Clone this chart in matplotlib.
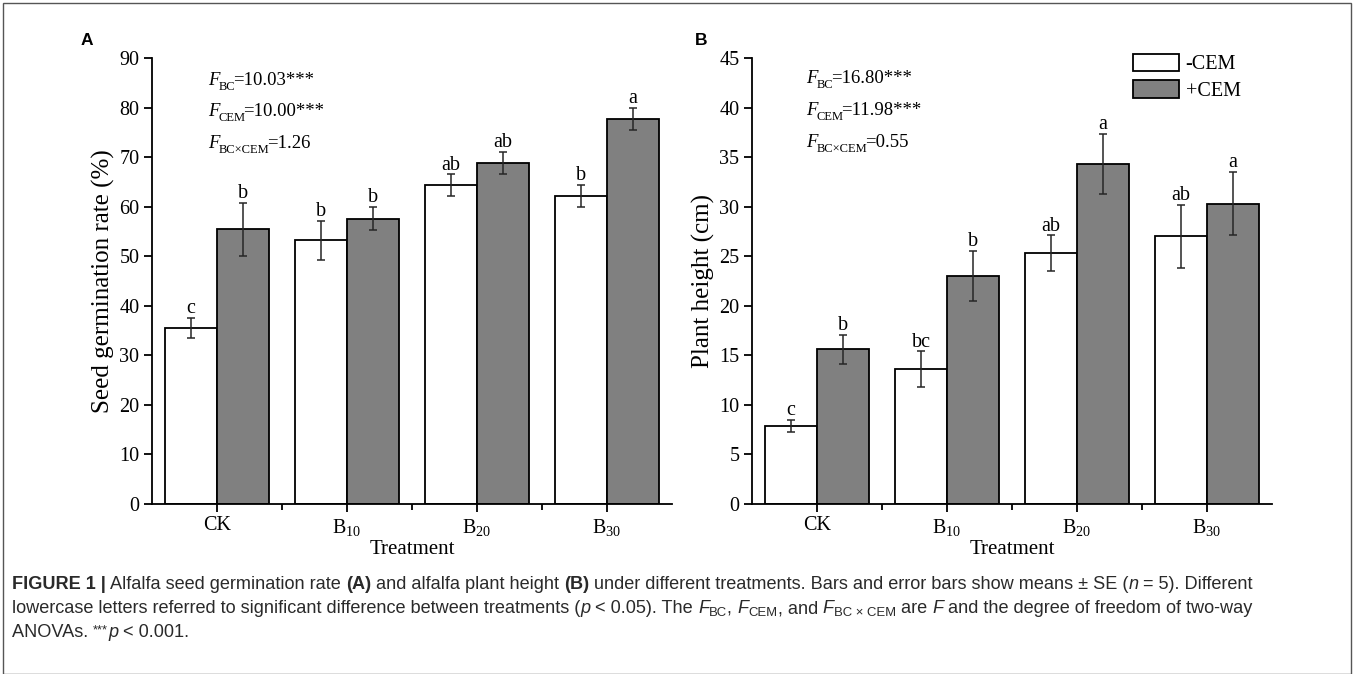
import numpy as np
import matplotlib
matplotlib.use('Agg')
from matplotlib import pyplot as plt
from matplotlib import font_manager
from matplotlib.patches import Rectangle

# ---- data ----
treatments = ['CK', 'B$_{10}$', 'B$_{20}$', 'B$_{30}$']

germ_minus = [35.5, 53.2, 64.3, 62.1]
germ_minus_se = [2.1, 3.9, 2.2, 2.2]
germ_plus = [55.4, 57.6, 68.8, 77.7]
germ_plus_se = [5.4, 2.3, 2.3, 2.2]
germ_letters_minus = ['c', 'b', 'ab', 'b']
germ_letters_plus = ['b', 'b', 'ab', 'a']

height_minus = [7.9, 13.6, 25.3, 27.0]
height_minus_se = [0.6, 1.8, 1.8, 3.2]
height_plus = [15.6, 23.0, 34.3, 30.3]
height_plus_se = [1.5, 2.5, 3.0, 3.2]
height_letters_minus = ['c', 'bc', 'ab', 'ab']
height_letters_plus = ['b', 'b', 'a', 'a']

stats_a = [('BC', '=10.03***'), ('CEM', '=10.00***'), ('BC\u00d7CEM', '=1.26')]
stats_b = [('BC', '=16.80***'), ('CEM', '=11.98***'), ('BC\u00d7CEM', '=0.55')]

W, H = 1357, 674
SERIF = 'Liberation Serif'
names = {f.name for f in font_manager.fontManager.ttflist}
CAP_FONT = 'Liberation Sans Narrow' if 'Liberation Sans Narrow' in names else 'Liberation Sans'
CAP_SIZE = 16 if CAP_FONT == 'Liberation Sans Narrow' else 13.1
CAP_COLOR = '#2a2a2a'

plt.rcParams['font.family'] = SERIF
plt.rcParams['mathtext.fontset'] = 'custom'
plt.rcParams['mathtext.rm'] = SERIF
plt.rcParams['mathtext.it'] = SERIF + ':italic'
plt.rcParams['mathtext.bf'] = SERIF + ':bold'

fig = plt.figure(figsize=(W / 100, H / 100), dpi=100)
renderer = fig.canvas.get_renderer()


def px(x, y):
    # pixel from top-left -> figure fraction
    return x / W, 1 - y / H


def text_width(s, props):
    t = fig.text(0, 0, s, **props)
    w = t.get_window_extent(renderer).width
    t.remove()
    return w


def draw_runs(x0, y0, runs, base):
    # draw text pieces one after another on a common baseline (pixels)
    x = x0
    for s, extra in runs:
        props = dict(base)
        dy = extra.get('dy', 0)
        kern = extra.get('kern', 0)
        props.update({k: v for k, v in extra.items() if k not in ('dy', 'kern')})
        fig.text(*px(x, y0 - dy), s, va='baseline', ha='left', **props)
        x += text_width('l' + s + 'l', props) - text_width('ll', props) + kern


def panel(rect, minus, minus_se, plus, plus_se, let_m, let_p, ymax, ystep, ylabel, letter, letter_x, legend=False):
    ax = fig.add_axes(rect)
    x = np.arange(len(treatments))
    w = 0.4
    ekw = dict(ecolor='#262626', elinewidth=1.1, capsize=3.2, capthick=1.1)
    ax.bar(x - w / 2, minus, w, color='white', edgecolor='black', linewidth=1.3,
           yerr=minus_se, error_kw=ekw, label='-CEM', zorder=2)
    ax.bar(x + w / 2, plus, w, color='#808080', edgecolor='black', linewidth=1.3,
           yerr=plus_se, error_kw=ekw, label='+CEM', zorder=2)
    for xs, vals, errs, lets in [(x - w / 2, minus, minus_se, let_m), (x + w / 2, plus, plus_se, let_p)]:
        for xi, v, e, l in zip(xs, vals, errs, lets):
            ax.annotate(l, (xi, v + e), xytext=(0, 3.5), textcoords='offset points',
                        ha='center', va='baseline', fontsize=14.5)
    ax.set_xlim(-0.5, 3.5)
    ax.set_ylim(0, ymax)
    ax.set_yticks(np.arange(0, ymax + 0.1, ystep))
    ax.set_xticks(x)
    ax.set_xticks(x[:-1] + 0.5, minor=True)
    ax.set_xticklabels(treatments)
    ax.tick_params(axis='both', which='major', direction='out', length=6, width=1.3,
                   labelsize=14.5, pad=3)
    ax.tick_params(axis='x', which='minor', direction='out', length=4, width=1.3)
    for s in ['top', 'right']:
        ax.spines[s].set_visible(False)
    for s in ['left', 'bottom']:
        ax.spines[s].set_linewidth(1.3)
    ax.set_ylabel(ylabel, fontsize=18, labelpad=3)
    ax.set_xlabel('Treatment', fontsize=15, labelpad=2)
    if legend:
        ax.legend(loc='upper left', bbox_to_anchor=(0.733, 1.01), frameon=False,
                  fontsize=14.5, handlelength=2.3, handleheight=0.95, handletextpad=0.3,
                  labelspacing=0.3, borderpad=0, borderaxespad=0)
    fig.text(*px(letter_x, 45), letter, family='Liberation Sans', weight='bold',
             fontsize=12.5, va='baseline')
    return ax


panel([152 / W, 1 - 504 / H, 520 / W, 446 / H], germ_minus, germ_minus_se, germ_plus, germ_plus_se,
      germ_letters_minus, germ_letters_plus, 90, 10, 'Seed germination rate (%)', 'A', 81)
panel([752 / W, 1 - 504 / H, 520 / W, 446 / H], height_minus, height_minus_se, height_plus, height_plus_se,
      height_letters_minus, height_letters_plus, 45, 5, 'Plant height (cm)', 'B', 695, legend=True)

# F statistics
serif = dict(family=SERIF, fontsize=13.5, color='black')
for x0, ys, stats in [(208, [85, 116, 148], stats_a), (806, [83, 115, 147], stats_b)]:
    for y0, (sub, val) in zip(ys, stats):
        draw_runs(x0, y0, [('F', dict(style='italic', kern=-1)),
                           (sub, dict(fontsize=9, dy=-5, kern=-2)),
                           (val, {})], serif)

# caption
cap = dict(family=CAP_FONT, fontsize=CAP_SIZE, color=CAP_COLOR)
it = dict(style='italic')
bd = dict(weight='bold')
sub = dict(fontsize=CAP_SIZE * 0.72, dy=-3)
draw_runs(12, 589, [('FIGURE 1 |', bd), (' Alfalfa seed germination rate ', {}), ('(A)', bd),
                    (' and alfalfa plant height ', {}), ('(B)', bd),
                    (' under different treatments. Bars and error bars show means \u00b1 SE (', {}),
                    ('n', it), (' = 5). Different', {})], cap)
draw_runs(12, 613, [('lowercase letters referred to significant difference between treatments (', {}),
                    ('p', it), (' < 0.05). The ', {}), ('F', it), ('BC', sub), (', ', {}),
                    ('F', it), ('CEM', sub), (', and ', {}), ('F', it), ('BC \u00d7 CEM', sub),
                    (' are ', {}), ('F', it), (' and the degree of freedom of two-way', {})], cap)
draw_runs(12, 637, [('ANOVAs. ', {}), ('***', dict(fontsize=CAP_SIZE * 0.72, dy=4)), ('p', it),
                    (' < 0.001.', {})], cap)

# outer frame
fig.patches.append(Rectangle((3 / W, 0.5 / H), 1348 / W, 671 / H, transform=fig.transFigure,
                             fill=False, edgecolor='#555555', linewidth=1.0))

fig.savefig('out.png', dpi=100)
